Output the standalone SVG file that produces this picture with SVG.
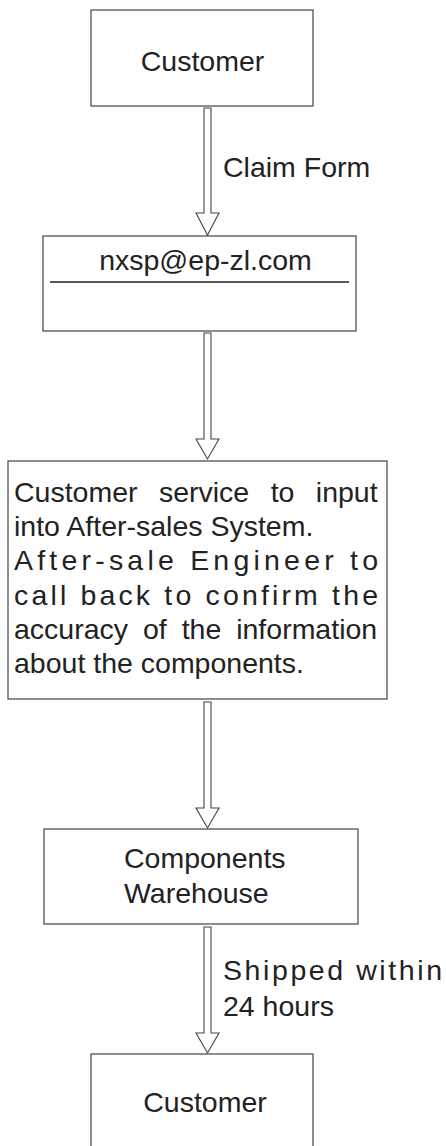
<svg xmlns="http://www.w3.org/2000/svg" width="446" height="1146" viewBox="0 0 446 1146">
<style>
.box{fill:#fff;stroke:#444;stroke-width:1.2}
.arr{fill:#fff;stroke:#444;stroke-width:1.1}
text{font-family:"Liberation Sans",Arial,sans-serif;font-size:28.5px;fill:#222}
.c{text-anchor:middle}
</style>
<rect width="446" height="1146" fill="#fff"/>
<g id="connectors">
<polygon class="arr" points="204,108 211,108 211,213 219,213 207.5,235 196,213 204,213"/>
<polygon class="arr" points="204,333 211,333 211,439 219,439 207.5,459 196,439 204,439"/>
<polygon class="arr" points="204,702 211,702 211,808 219,808 207.5,828 196,808 204,808"/>
<polygon class="arr" points="204,927 211,927 211,1033 219,1033 207.5,1053 196,1033 204,1033"/>
<text x="223" y="177">Claim Form</text>
<text x="223" y="980" textLength="219" lengthAdjust="spacing">Shipped within</text>
<text x="223" y="1016">24 hours</text>
</g>
<g id="customer1">
<rect class="box" x="91" y="10" width="222" height="96"/>
<text class="c" x="202.5" y="71">Customer</text>
</g>
<g id="email">
<rect class="box" x="43" y="236" width="313" height="95"/>
<line x1="50" y1="282" x2="349" y2="282" stroke="#222" stroke-width="1.3"/>
<text class="c" x="205.5" y="270">nxsp@ep-zl.com</text>
</g>
<g id="service">
<rect class="box" x="8" y="461" width="379" height="238"/>
<text x="14" y="502" word-spacing="13.5">Customer service to input</text>
<text x="14" y="536">into After-sales System.</text>
<text x="14" y="570" textLength="364" lengthAdjust="spacing">After-sale Engineer to</text>
<text x="14" y="605" textLength="364" lengthAdjust="spacing">call back to confirm the</text>
<text x="14" y="639" word-spacing="7">accuracy of the information</text>
<text x="14" y="673">about the components.</text>
</g>
<g id="warehouse">
<rect class="box" x="44" y="829" width="314" height="95"/>
<text x="124" y="868">Components</text>
<text x="124" y="903">Warehouse</text>
</g>
<g id="customer2">
<rect class="box" x="91" y="1054" width="222" height="110"/>
<text class="c" x="205" y="1112">Customer</text>
</g>
</svg>
